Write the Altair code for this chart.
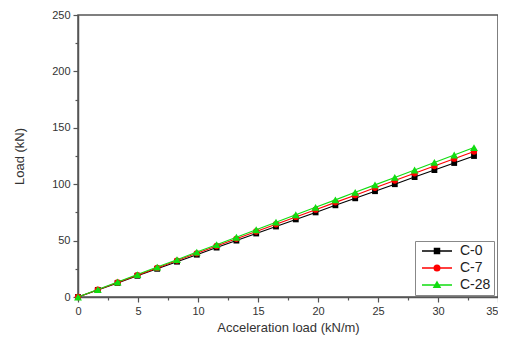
import altair as alt
import pandas as pd

# Data
x_vals = [0, 1.65, 3.3, 4.95, 6.6, 8.25, 9.9, 11.55, 13.2, 14.85, 16.5,
          18.15, 19.8, 21.45, 23.1, 24.75, 26.4, 28.05, 29.7, 31.35, 33.0]
c0 = [0, 6.3, 12.5, 18.8, 25.0, 31.3, 37.5, 43.8, 50.0, 56.3, 62.5,
      68.8, 75.0, 81.3, 87.5, 93.8, 100.0, 106.3, 112.5, 118.8, 125.0]
c7 = [0, 6.5, 12.9, 19.4, 25.8, 32.3, 38.7, 45.2, 51.6, 58.1, 64.5,
      71.0, 77.4, 83.9, 90.3, 96.8, 103.2, 109.7, 116.1, 122.6, 129.0]
c28 = [0, 6.6, 13.3, 19.9, 26.5, 33.1, 39.8, 46.4, 53.0, 59.6, 66.3,
       72.9, 79.5, 86.1, 92.8, 99.4, 106.0, 112.6, 119.3, 125.9, 132.5]

series = ["C-0", "C-7", "C-28"]
colors = ["#000000", "#ff0000", "#11dd11"]
shapes = ["square", "circle", "triangle-up"]
sizes = [34, 40, 62]
legend_paths = [
    "M-3,0H3M-0.5,-0.5H0.5V0.5H-0.5Z",
    "M-3,0H3M0.55,0A0.55,0.55,0,1,1,-0.55,0A0.55,0.55,0,1,1,0.55,0Z",
    "M-3,0H3M0,-0.6L0.6,0.45H-0.6Z",
]
x_ticks = [i * 2.5 for i in range(15)]
y_ticks = [i * 25 for i in range(11)]

rows = []
for name, vals in zip(series, [c0, c7, c28]):
    for xv, yv in zip(x_vals, vals):
        rows.append({"x": xv, "load": yv, "series": name})
df = pd.DataFrame(rows)

x_enc = alt.X(
    "x:Q",
    scale=alt.Scale(domain=[0, 35], nice=False, zero=False),
    axis=alt.Axis(
        values=x_ticks,
        labelExpr="datum.value % 5 === 0 ? datum.label : ''",
        tickSize={"condition": {"test": "datum.value % 5 === 0", "value": 5}, "value": 3},
        labelAlign={"condition": {"test": "datum.value === 35", "value": "right"}, "value": "center"},
        labelFlush=False,
        labelOverlap=False,
        labelPadding=3,
        titlePadding=5,
        title="Acceleration load (kN/m)",
    ),
)
y_enc = alt.Y(
    "load:Q",
    scale=alt.Scale(domain=[0, 250], nice=False, zero=False),
    axis=alt.Axis(
        values=y_ticks,
        labelExpr="datum.value % 50 === 0 ? datum.label : ''",
        tickSize={"condition": {"test": "datum.value % 50 === 0", "value": 5}, "value": 3},
        labelFlush=False,
        labelOverlap=False,
        labelPadding=3,
        titlePadding=25,
        title="Load (kN)",
    ),
)

layers = []
for name, col, shp, sz in zip(series, colors, shapes, sizes):
    base = alt.Chart().transform_filter(alt.datum.series == name)
    layers.append(base.mark_line(color=col, strokeWidth=1.1).encode(x=x_enc, y=y_enc))
    layers.append(
        base.mark_point(shape=shp, filled=True, color=col, size=sz, opacity=1).encode(x=x_enc, y=y_enc)
    )

legend_layer = (
    alt.Chart()
    .transform_filter("false")
    .mark_point(filled=True, size=144, strokeWidth=1, opacity=1)
    .encode(
        color=alt.Color("series:N", title=None, scale=alt.Scale(domain=series, range=colors)),
        stroke=alt.Stroke("series:N", title=None, scale=alt.Scale(domain=series, range=colors)),
        shape=alt.Shape("series:N", title=None, scale=alt.Scale(domain=series, range=legend_paths)),
    )
)
layers.append(legend_layer)

chart = (
    alt.layer(*layers, data=df)
    .properties(
        width=420,
        height=282,
        autosize=alt.AutoSizeParams(type="none"),
        padding={"left": 70, "top": 7, "right": 0, "bottom": 38},
    )
    .configure_view(stroke="#555555", strokeWidth=1.5)
    .configure_axis(
        grid=False,
        domainColor="#555555",
        domainWidth=1.5,
        tickColor="#555555",
        tickWidth=1.2,
        labelFont="Liberation Sans",
        labelFontSize=11,
        labelColor="#333333",
        titleFont="Liberation Sans",
        titleFontSize=13,
        titleFontWeight="normal",
        titleColor="#333333",
    )
    .configure_legend(
        orient="none",
        legendX=337,
        legendY=226,
        strokeColor="#888888",
        padding=3,
        rowPadding=3,
        symbolOffset=12,
        labelOffset=16,
        labelFont="Liberation Sans",
        labelFontSize=14,
        labelColor="#222222",
    )
)

chart.save("out.html", embed_options={"renderer": "svg", "actions": False})
